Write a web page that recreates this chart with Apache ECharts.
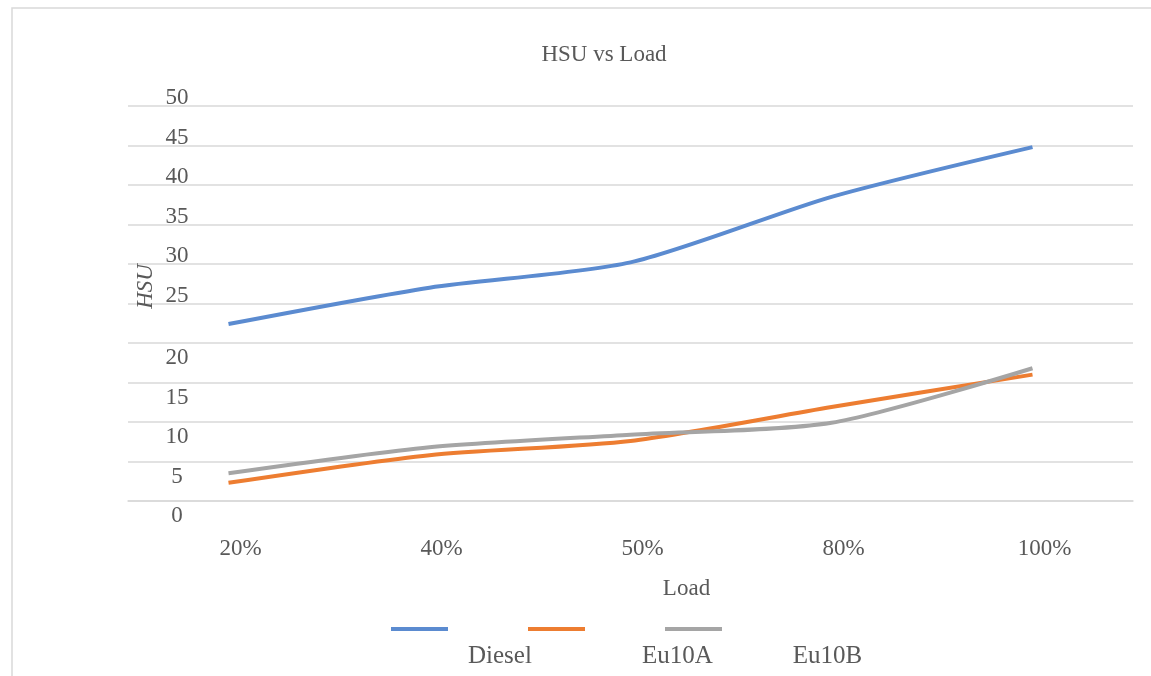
<!DOCTYPE html>
<html>
<head>
<meta charset="utf-8">
<title>HSU vs Load</title>
<script src="https://cdn.jsdelivr.net/npm/echarts@6/dist/echarts.min.js"></script>
<style>
    html, body { margin: 0; padding: 0; background: #fff; }
    #chart { width: 1151px; height: 676px; }
</style>
</head>
<body>
<div id="chart"></div>
<script>
(function () {
    'use strict';

    var loads = ['20%', '40%', '50%', '80%', '100%'];
    var seriesNames = ['Diesel', 'Eu10A', 'Eu10B'];
    var diesel = [22.4, 27.0, 30.2, 38.5, 44.8];
    var eu10a = [2.3, 5.8, 7.6, 11.9, 16.0];
    var eu10b = [3.5, 6.8, 8.4, 9.9, 16.8];
    var colors = ['#5b8bd0', '#ed7d31', '#a5a5a5'];

    var font = '"Liberation Serif", "Times New Roman", serif';
    var textColor = '#595959';

    var myChart = echarts.init(document.getElementById('chart'));

    function makeLine(name, data, color) {
        return {
            name: name,
            type: 'line',
            data: data,
            smooth: 0.25,
            symbol: 'none',
            lineStyle: { color: color, width: 4 },
            itemStyle: { color: color }
        };
    }

    // legend names sit apart from their icons, like in the source picture
    function nameLegend(names, left) {
        return {
            bottom: 2,
            left: left,
            itemWidth: 0,
            itemHeight: 0,
            itemGap: 75,
            icon: 'none',
            data: names,
            textStyle: { fontFamily: font, fontSize: 25, color: textColor }
        };
    }

    myChart.setOption({
        animation: false,
        color: colors,
        title: {
            text: 'HSU vs Load',
            left: 599,
            top: 38,
            textAlign: 'center',
            textStyle: { fontFamily: font, fontSize: 23, fontWeight: 'normal', color: textColor }
        },
        graphic: [{
            type: 'rect',
            shape: { x: 12, y: 8, width: 1160, height: 700 },
            style: { fill: 'none', stroke: '#d9d9d9', lineWidth: 1.5 },
            silent: true
        }],
        legend: [{
            // icons only
            bottom: 40,
            left: 386,
            itemWidth: 57,
            itemHeight: 4,
            itemGap: 80,
            icon: 'rect',
            data: seriesNames,
            formatter: function () { return ''; },
            textStyle: { fontSize: 1 }
        },
            nameLegend(seriesNames.slice(0, 1), 458),
            nameLegend(seriesNames.slice(1), 632)
        ],
        grid: { left: 128, right: 18, top: 106, bottom: 175 },
        xAxis: {
            type: 'category',
            data: loads,
            boundaryGap: true,
            name: 'Load',
            nameLocation: 'middle',
            nameGap: 76,
            nameTextStyle: { fontFamily: font, fontSize: 23, color: textColor, padding: [0, 0, 0, 112] },
            axisLine: { lineStyle: { color: '#d9d9d9', width: 1.5 } },
            axisTick: { show: false },
            axisLabel: {
                margin: 36,
                fontFamily: font, fontSize: 23, color: textColor,
                padding: [0, 0, 0, 24]
            }
        },
        yAxis: {
            type: 'value',
            min: 0,
            max: 50,
            interval: 5,
            name: 'HSU',
            nameLocation: 'middle',
            nameRotate: 90,
            nameGap: -29,
            nameMoveOverlap: false,
            nameTextStyle: {
                fontFamily: font, fontSize: 23, fontStyle: 'italic', color: textColor,
                padding: [0, 0, 0, 34]
            },
            axisLine: { show: false },
            axisTick: { show: false },
            splitLine: { lineStyle: { color: '#d9d9d9', width: 1.5 } },
            axisLabel: {
                align: 'center',
                margin: -49,
                fontFamily: font, fontSize: 23, color: textColor,
                formatter: function (v) {
                    return v >= 25 ? '{u|' + v + '}' : '{d|' + v + '}';
                },
                rich: {
                    u: { fontFamily: font, fontSize: 23, color: textColor, padding: [0, 0, 16, 0] },
                    d: { fontFamily: font, fontSize: 23, color: textColor, padding: [30, 0, 0, 0] }
                }
            }
        },
        series: [
            makeLine(seriesNames[0], diesel, colors[0]),
            makeLine(seriesNames[1], eu10a, colors[1]),
            makeLine(seriesNames[2], eu10b, colors[2])
        ]
    });
}());
</script>
</body>
</html>
